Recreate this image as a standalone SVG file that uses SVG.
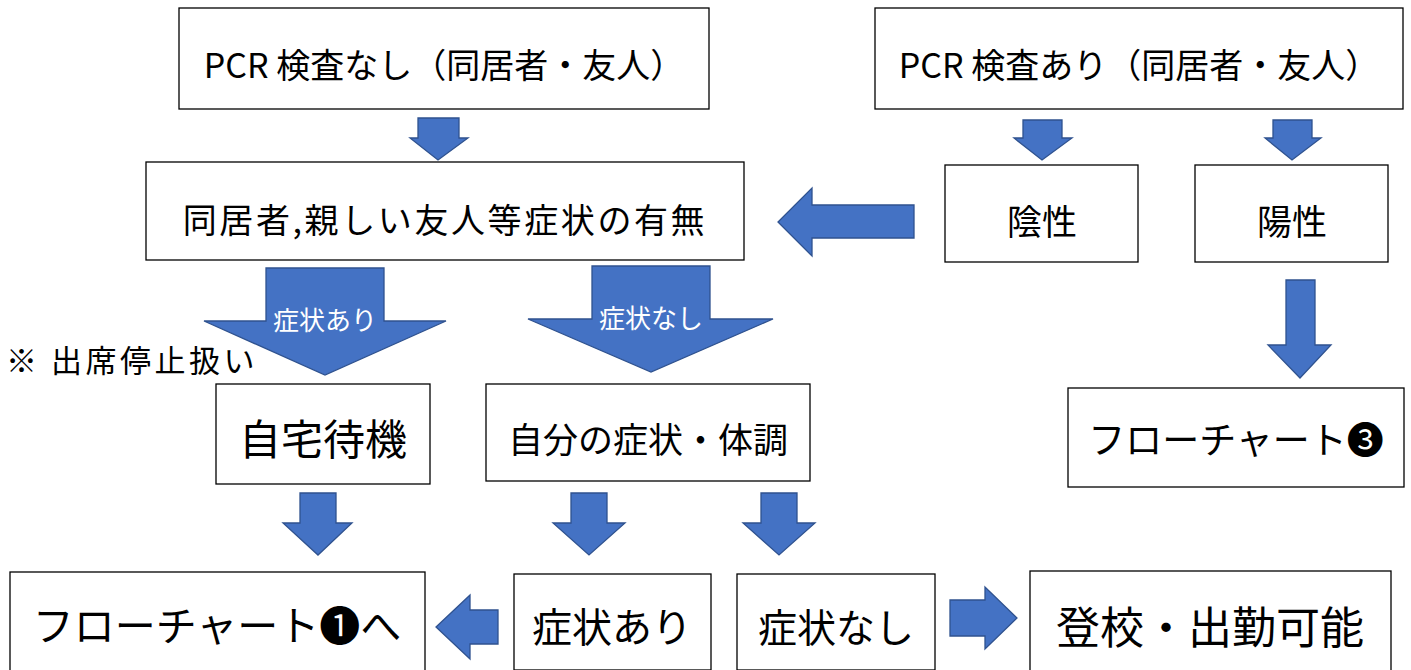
<svg xmlns="http://www.w3.org/2000/svg" width="1411" height="670" viewBox="0 0 1411 670">
<style>
.box{fill:#fff;stroke:#000;stroke-width:1.3}
.arr{fill:#4472C4;stroke:#2F528F;stroke-width:1.3}
text{font-family:"Noto Sans CJK JP","Noto Sans",sans-serif;fill:#000;text-anchor:middle}
.w{fill:#fff}
</style>
<rect width="1411" height="670" fill="#fff"/>
<g id="connectors">
<polygon class="arr" points="418,118 459,118 459,138 468,138 438,160 410,138 418,138"/>
<polygon class="arr" points="1023,120 1062,120 1062,138 1072,138 1042,160 1014,138 1023,138"/>
<polygon class="arr" points="1273,120 1312,120 1312,138 1321,138 1292,160 1265,138 1273,138"/>
<polygon class="arr" points="914,205 812,205 812,188 778,222 812,256 812,238 914,238"/>
<polygon class="arr" points="266,268 384,268 384,321 446,321 325,375 204,321 266,321"/>
<polygon class="arr" points="592,266 710,266 710,319 773,319 651,372 528,319 592,319"/>
<polygon class="arr" points="300,493 336,493 336,523 352,523 318,555 283,523 300,523"/>
<polygon class="arr" points="571,493 607,493 607,523 625,523 589,555 553,523 571,523"/>
<polygon class="arr" points="761,493 797,493 797,523 815,523 779,555 743,523 761,523"/>
<polygon class="arr" points="1286,280 1315,280 1315,345 1331,345 1300,378 1268,345 1286,345"/>
<polygon class="arr" points="498,610 470,610 470,595 436,627 470,659 470,644 498,644"/>
<polygon class="arr" points="950,600 985,600 985,587 1017,618 985,649 985,636 950,636"/>
<text class="w" x="325" y="330" font-size="26">症状あり</text>
<text class="w" x="651" y="328" font-size="26">症状なし</text>
</g>
<g id="n1"><rect class="box" x="179" y="8" width="530" height="101"/><text x="444" y="78" font-size="34">PCR 検査なし（同居者・友人）</text></g>
<g id="n2"><rect class="box" x="875" y="8" width="528" height="101"/><text x="1139" y="78" font-size="34">PCR 検査あり（同居者・友人）</text></g>
<g id="n3"><rect class="box" x="146" y="162" width="598" height="98"/><text x="445" y="233" font-size="34" letter-spacing="2.6">同居者,親しい友人等症状の有無</text></g>
<g id="n4"><rect class="box" x="945" y="165" width="193" height="97"/><text x="1042" y="235" font-size="35">陰性</text></g>
<g id="n5"><rect class="box" x="1195" y="165" width="193" height="97"/><text x="1292" y="235" font-size="35">陽性</text></g>
<g id="note"><text x="6" y="372" font-size="31" letter-spacing="3.5" style="text-anchor:start">※ 出席停止扱い</text></g>
<g id="n6"><rect class="box" x="216" y="384" width="214" height="100"/><text x="323" y="455" font-size="42">自宅待機</text></g>
<g id="n7"><rect class="box" x="486" y="384" width="324" height="97"/><text x="648" y="453" font-size="35">自分の症状・体調</text></g>
<g id="n8"><rect class="box" x="1068" y="388" width="336" height="99"/><text x="1236" y="454" font-size="37">フローチャート❸</text></g>
<g id="n9"><rect class="box" x="10" y="572" width="415" height="100"/><text x="217" y="641" font-size="41">フローチャート❶へ</text></g>
<g id="n10"><rect class="box" x="514" y="574" width="197" height="96"/><text x="612" y="642" font-size="40">症状あり</text></g>
<g id="n11"><rect class="box" x="737" y="574" width="198" height="96"/><text x="836" y="642" font-size="39">症状なし</text></g>
<g id="n12"><rect class="box" x="1030" y="571" width="361" height="101"/><text x="1210" y="644" font-size="44">登校・出勤可能</text></g>
</svg>
